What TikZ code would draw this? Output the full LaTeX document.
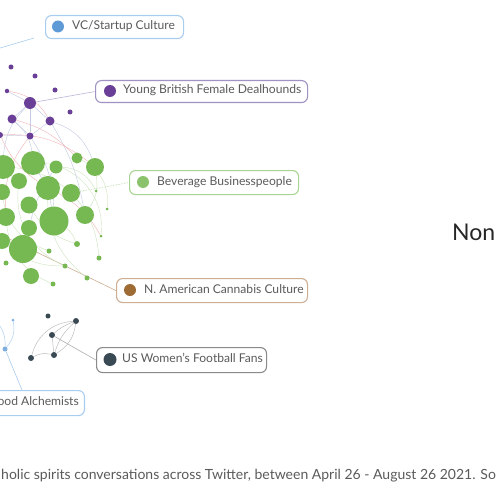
\documentclass[tikz,border=0pt]{standalone}
\usepackage{fontspec}
\setmainfont{Lato}
\usetikzlibrary{backgrounds}
\definecolor{vcC}{HTML}{5E9BD6}
\definecolor{vcL}{HTML}{A8CDEF}
\definecolor{puC}{HTML}{6A3F98}
\definecolor{puL}{HTML}{A192C4}
\definecolor{grC}{HTML}{76B852}
\definecolor{grL}{HTML}{A9D390}
\definecolor{brC}{HTML}{9E6B34}
\definecolor{brL}{HTML}{CDAE92}
\definecolor{dkC}{HTML}{3A4A55}
\definecolor{dkL}{HTML}{8A8A8A}
\definecolor{txt}{HTML}{5A5A5A}
\definecolor{pinkE}{HTML}{F0B8BC}
\definecolor{blueE}{HTML}{C4CCE4}
\definecolor{greenE}{HTML}{CFE5C2}
\tikzset{
  lbox/.style={draw, rounded corners=6pt, line width=1.1pt, inner sep=0pt},
  dot/.style={circle, inner sep=0pt, draw=none},
  ltext/.style={inner sep=0pt, text=txt, font=\fontsize{12.1}{14}\selectfont, text height=8.5pt, text depth=2.5pt},
  conn/.style={line width=0.6pt},
  fe/.style={line width=0.45pt},
}
\begin{document}
\begin{tikzpicture}[x=1pt,y=-1pt]
\useasboundingbox (0,0) rectangle (500,500);
% network nodes
\foreach \n/\x/\y/\d in {1/11/67/5,2/35/76/5,3/7/91/4.5,4/55/90/5,5/30/103/12,6/70/112/5,7/12/119/9,8/50/121/9,9/30/136/7,10/0/135/6}
  \node[dot, fill=puC, minimum size=\d pt] (p\n) at (\x,\y) {};
\foreach \n/\x/\y/\d in {1/3/167/24,2/33/163/24,3/56/167/13,4/77/158/11,5/95/167/18,6/19/181/16,7/2/192/16,8/48/188/24,9/71/193/18,10/96/191/3,11/29/205/17,12/6/217/18,13/54/221/29,14/85/215/18,15/107/209/3,16/29/228/16,17/2/241/16,18/23/249/28,19/101/236/3,20/77/244/6,21/49/251/5,22/99/258/5,23/6/263/5,24/65/266/5,25/31/276/16,26/87/278/5,27/53/284/5}
  \node[dot, fill=grC, minimum size=\d pt] (g\n) at (\x,\y) {};
\foreach \n/\x/\y/\d in {1/48/316/5,2/76/321/6,3/52/335/6,4/31/358/6,5/54/355/6}
  \node[dot, fill=dkC, minimum size=\d pt] (d\n) at (\x,\y) {};
\node[dot, fill=vcC!80, minimum size=3pt] (b1) at (13,320) {};
\node[dot, fill=vcC!80, minimum size=5pt] (b2) at (5,349) {};
% label boxes
\node[lbox, draw=vcL, minimum width=138pt, minimum height=23pt, anchor=north west] (vcbox) at (45,15) {};
\node[dot, fill=vcC, minimum size=12pt] (vcdot) at (58,26.5) {};
\node[ltext, anchor=west] (vctext) at (72,26.5) {VC/Startup Culture};
\node[lbox, draw=puL, minimum width=212pt, minimum height=22pt, anchor=north west] (ybbox) at (95,80) {};
\node[dot, fill=puC, minimum size=12pt] (ybdot) at (110,91) {};
\node[ltext, anchor=west] (ybtext) at (123,91) {Young British Female Dealhounds};
\node[lbox, draw=grL, minimum width=169pt, minimum height=24pt, anchor=north west] (bbbox) at (129,170) {};
\node[dot, fill=grC!85, minimum size=12pt] (bbdot) at (143,182) {};
\node[ltext, anchor=west] (bbtext) at (157,182) {Beverage Businesspeople};
\node[lbox, draw=brL, minimum width=191pt, minimum height=24pt, anchor=north west] (nabox) at (116,278) {};
\node[dot, fill=brC, minimum size=12pt] (nadot) at (130,290) {};
\node[ltext, anchor=west] (natext) at (144,290) {N. American Cannabis Culture};
\node[lbox, draw=dkL, minimum width=170pt, minimum height=25pt, anchor=north west] (usbox) at (96,347) {};
\node[dot, fill=dkC, minimum size=13pt] (usdot) at (110,359.5) {};
\node[ltext, anchor=west] (ustext) at (122,359.5) {US Women’s Football Fans};
\node[lbox, draw=vcL, minimum width=150pt, minimum height=25pt, anchor=north east] (albox) at (85,390) {};
\node[ltext, anchor=east] (altext) at (79,402.5) {ood Alchemists};
% title and caption
\node[inner sep=0pt, anchor=base west, text=black!85, font=\fontsize{23}{26}\selectfont] (title) at (452,240) {Non};
\node[inner sep=0pt, anchor=base west, text=txt, font=\fontsize{14}{16}\selectfont] (caption) at (1,479) {holic spirits conversations across Twitter, between April 26 - August 26 2021. So};
% connectors and faint edges
\begin{scope}[on background layer]
\coordinate (vcA) at (-10,51);
\coordinate (vcB) at (34,38);
\draw[conn, vcL] (vcA) -- (vcB);
\draw[conn, puL!70] (p5) -- (ybbox.west);
\draw[conn, grL, densely dotted] (g9) -- (bbbox.west);
\coordinate (naA) at (-5,232);
\draw[conn, brL] (naA) -- (nabox.west);
\draw[conn, dkL!70] (d3) -- (usbox.west);
\coordinate (alT) at (22,390);
\draw[conn, vcL] (b2) -- (alT);
\draw[fe, vcL] (b2) to[bend right=25] (b1);
\coordinate (bL) at (-3,322);
\draw[fe, vcL] (bL) to[bend left=20] (b2);
% dark cluster
\draw[fe, dkL!60] (d2) to[bend right=10] (d3);
\draw[fe, dkL!60] (d2) to[bend right=35] (d4);
\draw[fe, dkL!60] (d2) to[bend left=25] (d5);
\draw[fe, dkL!60] (d2) to[bend right=15] (d5);
\draw[fe, dkL!60] (d3) -- (d5);
\draw[fe, dkL!60] (d4) to[bend left=20] (d5);
% purple cluster
\foreach \a/\b in {p5/p7,p5/p8,p5/p9,p5/p3,p7/p9,p8/p9,p10/p9}
  \draw[fe, blueE] (\a) -- (\b);
\draw[fe, blueE] (p7) to[bend left=20] (g2);
\draw[fe, blueE] (p8) to[bend left=25] (g5);
\draw[fe, blueE] (p5) to[bend right=20] (g1);
\draw[fe, blueE] (p9) to[bend left=15] (g13);
\draw[fe, blueE] (p8) to[bend left=10] (g14);
\draw[fe, pinkE] (p10) to[bend left=20] (g5);
\draw[fe, pinkE] (p3) to[bend left=25] (p8);
\draw[fe, pinkE] (p7) to[bend left=15] (g4);
\draw[fe, pinkE] (p9) to[bend right=20] (g12);
\draw[fe, pinkE] (p10) to[bend right=15] (g8);
% green cluster
\draw[fe, greenE] (g1) to[bend left=40] (g22);
\draw[fe, greenE] (g2) to[bend left=45] (g19);
\draw[fe, greenE] (g3) to[bend left=30] (g10);
\draw[fe, greenE] (g4) to[bend left=35] (g15);
\draw[fe, greenE] (g6) to[bend right=35] (g24);
\draw[fe, greenE] (g8) to[bend right=25] (g26);
\draw[fe, greenE] (g12) to[bend right=30] (g27);
\draw[fe, greenE] (g11) to[bend right=20] (g20);
\draw[fe, greenE] (g7) to[bend right=30] (g21);
\draw[fe, greenE] (g17) to[bend right=20] (g24);
\draw[fe, greenE] (g13) to[bend left=15] (g20);
\draw[fe, greenE] (g5) to[bend left=20] (g14);
\draw[fe, blueE] (g2) to[bend left=10] (g13);
\draw[fe, blueE] (g3) to[bend right=10] (g16);
\draw[fe, pinkE] (g8) to[bend left=15] (g19);
\end{scope}
\end{tikzpicture}
\end{document}
